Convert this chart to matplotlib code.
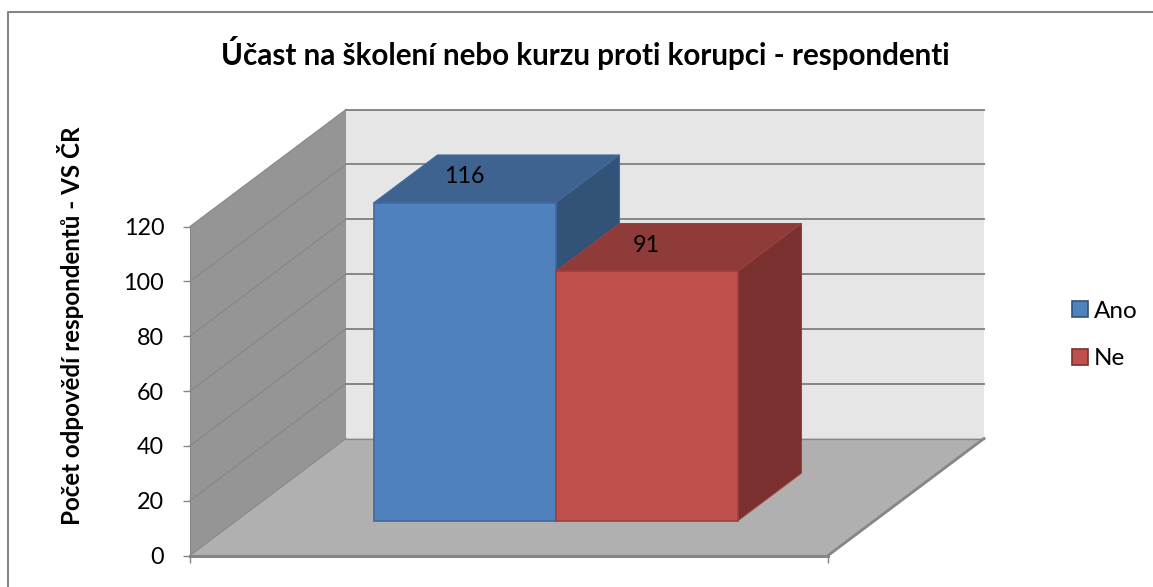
import matplotlib
matplotlib.use('Agg')
import matplotlib.pyplot as plt
from matplotlib.lines import Line2D
from matplotlib.patches import Patch, Polygon

plt.rcParams['font.family'] = ['Lato', 'DejaVu Sans']

categories = ['Ano', 'Ne']
values = [116, 91]
y_ticks = [0, 20, 40, 60, 80, 100, 120]
title = 'Účast na školení nebo kurzu proti korupci - respondenti'
y_label = 'Počet odpovědí respondentů - VS ČR'

W, H = 1153, 587
face_colors = ['#4F81BD', '#C0504D']
edge_colors = ['#3F6A9E', '#9E3F3C']
top_colors = ['#3E6390', '#8F3B39']
side_colors = ['#325278', '#7A302E']

fig = plt.figure(figsize=(W / 100, H / 100), dpi=100)
ax = fig.add_axes([190 / W, 1 - 555.5 / H, 638 / W, 329 / H])
ax.set_xlim(0, 1)
ax.set_ylim(0, 120)

# oblique projection, depth 0 is the front plane and 1 the back wall
DX = 156 / 638
DY = 117 / 329 * 120


def proj(x, y, d):
    return x + d * DX, y + d * DY


def face(points, color, edge='none', lw=0, z=1):
    ax.add_patch(Polygon([proj(*p) for p in points], closed=True, facecolor=color,
                         edgecolor=edge, linewidth=lw, clip_on=False, zorder=z))


# walls and floor
face([(0, 0, 1), (1, 0, 1), (1, 120, 1), (0, 120, 1)], '#E6E6E6')
face([(0, 0, 0), (0, 0, 1), (0, 120, 1), (0, 120, 0)], '#959595')
face([(0, 0, 0), (1, 0, 0), (1, 0, 1), (0, 0, 1)], '#B0B0B0')

for t in y_ticks:
    xs, ys = zip(proj(0, t, 1), proj(1, t, 1))
    if t > 0:
        ax.plot(xs, ys, color='#868686', lw=1.4, clip_on=False, zorder=1.5)
    xs, ys = zip(proj(0, t, 0), proj(0, t, 1))
    ax.plot(xs, ys, color='#868686', lw=0.8, clip_on=False, zorder=1.5)
xs, ys = zip(proj(1, 0, 0), proj(1, 0, 1))
ax.plot(xs, ys, color='#868686', lw=2, clip_on=False, zorder=1.5)
xs, ys = zip(proj(0, 0, 1), proj(1, 0, 1))
ax.plot(xs, ys, color='#868686', lw=0.9, clip_on=False, zorder=1.5)

# bars
bar_w = 182 / 638
left = 0.5 - bar_w + 0.5 / 638
d0, d1 = 0.295, 0.705
for i, v in enumerate(values):
    x0 = left + i * bar_w
    x1 = x0 + bar_w
    z = 2 + i
    face([(x0, v, d0), (x1, v, d0), (x1, v, d1), (x0, v, d1)], top_colors[i], edge_colors[i], 0.8, z)
    face([(x1, 0, d0), (x1, 0, d1), (x1, v, d1), (x1, v, d0)], side_colors[i], edge_colors[i], 0.8, z)
    face([(x0, 0, d0), (x1, 0, d0), (x1, v, d0), (x0, v, d0)], face_colors[i], edge_colors[i], 1.2, z)
    ax.annotate(str(v), xy=proj((x0 + x1) / 2, v, d0), xytext=(0, 18.8), textcoords='offset points',
                ha='center', va='center', fontsize=16.8, color='black', zorder=5, annotation_clip=False)

ax.patch.set_visible(False)
for s in ['top', 'right']:
    ax.spines[s].set_visible(False)
ax.spines['left'].set_color('#868686')
ax.spines['bottom'].set_color('#868686')
ax.spines['bottom'].set_linewidth(2.2)
ax.spines['bottom'].set_zorder(1.8)
ax.set_yticks(y_ticks)
ax.set_xticks([0, 1])
ax.set_xticklabels(['', ''])
ax.tick_params(axis='both', color='#868686', length=5, width=1)
ax.tick_params(axis='y', labelsize=16.8, pad=13.5)
ax.set_ylabel(y_label, fontsize=17.4, fontweight='bold')
ax.yaxis.set_label_coords((84 - 190) / 638, (555.5 - 326) / 329)

fig.text(585 / W, 1 - 53.5 / H, title, fontsize=21.3, fontweight='bold', ha='center', va='center')

# chart frame, open to the right and bottom like the source
fig.add_artist(Line2D([8 / W, 8 / W, 1], [0, 1 - 11.5 / H, 1 - 11.5 / H], color='#868686', lw=1.5))

handles = [Patch(facecolor=face_colors[i], edgecolor=side_colors[i], linewidth=1.2, label=categories[i])
           for i in range(2)]
fig.legend(handles=handles, loc='center left', bbox_to_anchor=(1050 / W, 1 - 335 / H), frameon=False,
           fontsize=17.5, handlelength=0.66, handleheight=0.66, handletextpad=0.25, labelspacing=1.1)

fig.savefig('out.png', dpi=100)
